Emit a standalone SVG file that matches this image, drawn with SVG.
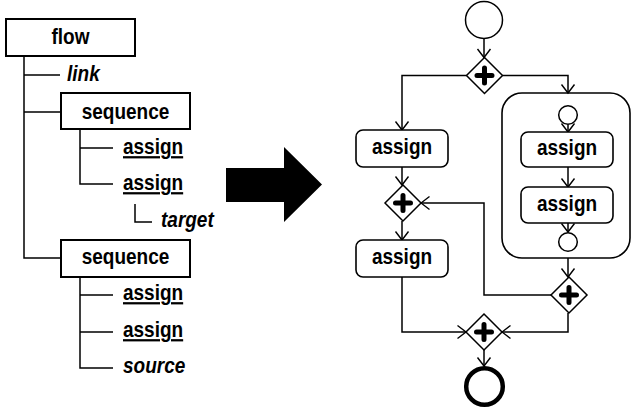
<svg xmlns="http://www.w3.org/2000/svg" width="631" height="411" viewBox="0 0 631 411">
<defs>
<marker id="arr" viewBox="-1 -8 11 16" markerWidth="11" markerHeight="16" refX="8.5" refY="0" orient="auto" markerUnits="userSpaceOnUse">
<path d="M0,-6.5 L8.5,0 L0,6.5" fill="none" stroke="#000" stroke-width="1.4"/>
</marker>
<g id="plusGw">
<polygon points="0,-18 18,0 0,18 -18,0" fill="#fff" stroke="#000" stroke-width="1.5"/>
<path d="M-7.5,0 H7.5 M0,-7.5 V7.5" stroke="#000" stroke-width="5" stroke-linecap="round"/>
</g>
</defs>
<style>
.box{fill:#fff;stroke:#000;stroke-width:2}
.rbox{fill:#fff;stroke:#000;stroke-width:1.6}
.ln{fill:none;stroke:#000;stroke-width:1.5}
.c{fill:none;stroke:#000;stroke-width:1.5;marker-end:url(#arr)}
.t{font-family:"Liberation Sans",Arial,sans-serif;font-weight:bold;font-size:19px;fill:#000}
.m{text-anchor:middle}
.i{font-style:italic}
.u{text-decoration:underline}
</style>
<rect width="631" height="411" fill="#fff"/>

<!-- tree lines -->
<g id="tree-lines">
<path class="ln" d="M24,56 V258 H61 M24,75 H60 M24,112 H61"/>
<path class="ln" d="M80,129 V184 H113 M80,148 H113"/>
<path class="ln" d="M135,204 V222 H152"/>
<path class="ln" d="M80,277 V368 H113 M80,295 H113 M80,332 H113"/>
</g>
<g id="flow"><rect class="box" x="6" y="19" width="129" height="37"/><text class="t m" transform="translate(70.5 44) scale(1 1.18)">flow</text></g>
<g id="link"><text class="t i" transform="translate(67 80.5) scale(1 1.18)">link</text></g>
<g id="seq1"><rect class="box" x="61" y="93" width="129" height="36"/><text class="t m" transform="translate(125.5 118.5) scale(1 1.18)">sequence</text></g>
<g id="assign-a"><text class="t u" transform="translate(123 154) scale(1 1.18)">assign</text></g>
<g id="assign-b"><text class="t u" transform="translate(123 190) scale(1 1.18)">assign</text></g>
<g id="target"><text class="t i" transform="translate(161 227) scale(1 1.18)">target</text></g>
<g id="seq2"><rect class="box" x="61" y="240" width="129" height="37"/><text class="t m" transform="translate(125.5 264) scale(1 1.18)">sequence</text></g>
<g id="assign-c"><text class="t u" transform="translate(123 300) scale(1 1.18)">assign</text></g>
<g id="assign-d"><text class="t u" transform="translate(123 337) scale(1 1.18)">assign</text></g>
<g id="source"><text class="t i" transform="translate(123 373) scale(1 1.18)">source</text></g>

<!-- big arrow -->
<g id="big-arrow"><polygon points="226,168 284,168 284,147 322,184.5 284,222 284,202 226,202" fill="#000"/></g>

<!-- right diagram -->
<g id="container"><rect x="502" y="93" width="128" height="165" rx="20" ry="20" fill="#fff" stroke="#000" stroke-width="1.6"/></g>

<g id="connectors">
<path class="c" d="M484,38.5 V57.5"/>
<path class="c" d="M466.5,75.5 H402 V130"/>
<path class="c" d="M502.5,75.5 H568 V93"/>
<path class="c" d="M568,124.5 V132"/>
<path class="c" d="M568,167 V187"/>
<path class="c" d="M568,223 V232"/>
<path class="c" d="M568,258 V277"/>
<path class="c" d="M551,295 H484 V203 H421"/>
<path class="c" d="M402,167 V185"/>
<path class="c" d="M402,221 V240"/>
<path class="c" d="M402,277 V332 H466"/>
<path class="c" d="M568,313 V332 H502"/>
<path class="c" d="M484,350 V366"/>
</g>

<g id="start"><circle cx="484" cy="20" r="18.5" fill="#fff" stroke="#000" stroke-width="1.5"/></g>
<g id="fork"><use href="#plusGw" x="484.5" y="75.5"/></g>
<g id="assign1"><rect class="rbox" x="356" y="130" width="92" height="37" rx="7"/><text class="t m" transform="translate(402 154.3) scale(1 1.18)">assign</text></g>
<g id="sub-start"><circle cx="568" cy="115" r="9.3" fill="#fff" stroke="#000" stroke-width="1.5"/></g>
<g id="assign2"><rect class="rbox" x="521" y="132" width="92" height="35" rx="7"/><text class="t m" transform="translate(567 155) scale(1 1.18)">assign</text></g>
<g id="assign3"><rect class="rbox" x="521" y="187" width="92" height="36" rx="7"/><text class="t m" transform="translate(567 211) scale(1 1.18)">assign</text></g>
<g id="sub-end"><circle cx="568" cy="242" r="9.3" fill="#fff" stroke="#000" stroke-width="1.5"/></g>
<g id="join1"><use href="#plusGw" x="403" y="203"/></g>
<g id="assign4"><rect class="rbox" x="356" y="240" width="92" height="37" rx="7"/><text class="t m" transform="translate(402 264) scale(1 1.18)">assign</text></g>
<g id="join2"><use href="#plusGw" x="569" y="295"/></g>
<g id="join3"><use href="#plusGw" x="484" y="332"/></g>
<g id="end"><circle cx="484.5" cy="386.5" r="18.3" fill="#fff" stroke="#000" stroke-width="4.5"/></g>
</svg>
